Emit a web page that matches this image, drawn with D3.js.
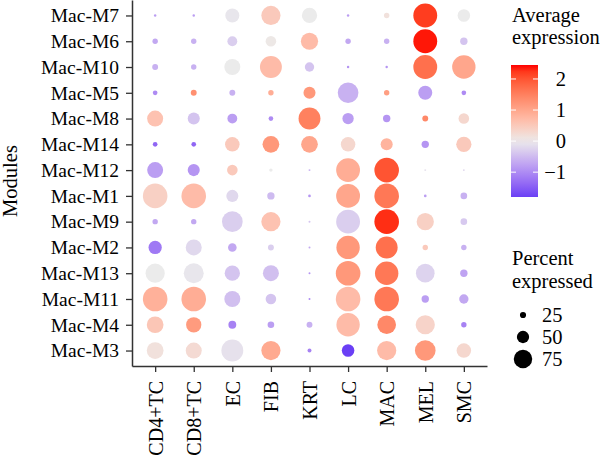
<!DOCTYPE html>
<html>
<head>
<meta charset="utf-8">
<script src="https://cdn.jsdelivr.net/npm/d3@7"></script>
<style>
  body { margin: 0; background: #fff; }
</style>
</head>
<body>
<svg id="chart" width="600" height="458"></svg>
<script>
const modules = ["Mac-M7", "Mac-M6", "Mac-M10", "Mac-M5", "Mac-M8", "Mac-M14", "Mac-M12",
                 "Mac-M1", "Mac-M9", "Mac-M2", "Mac-M13", "Mac-M11", "Mac-M4", "Mac-M3"];
const cellTypes = ["CD4+TC", "CD8+TC", "EC", "FIB", "KRT", "LC", "MAC", "MEL", "SMC"];

// percent expressed, one row per module (columns follow cellTypes)
const pctExpressed = [
  [10, 10, 57, 78, 62, 10, 22, 97, 51],
  [22, 22, 40, 43, 70, 22, 22, 97, 30],
  [24, 22, 65, 89, 38, 10, 10, 97, 95],
  [19, 24, 24, 22, 49, 84, 22, 57, 19],
  [65, 49, 40, 19, 89, 46, 30, 24, 43],
  [19, 19, 59, 68, 68, 59, 49, 30, 62],
  [65, 49, 43, 14, 8, 97, 100, 8, 8],
  [100, 100, 49, 30, 11, 97, 100, 11, 27],
  [22, 22, 84, 78, 8, 97, 100, 70, 27],
  [54, 65, 35, 24, 8, 95, 89, 22, 22],
  [78, 81, 62, 65, 8, 100, 95, 76, 30],
  [100, 100, 65, 43, 8, 100, 100, 30, 38],
  [68, 62, 32, 27, 24, 95, 76, 78, 22],
  [68, 65, 89, 78, 16, 51, 78, 84, 59]
];

// average expression, same layout
const avgExpression = [
  [-0.8, -0.8, -0.05, 0.5, 0.0, -0.8, 0.15, 2.2, 0.0],
  [-0.7, -0.6, -0.3, 0.05, 0.7, -0.7, -0.6, 2.4, -0.4],
  [-0.6, -0.6, 0.0, 0.7, -0.4, -0.9, -0.9, 1.7, 1.0],
  [-1.0, 1.3, -0.6, 0.9, 1.2, -0.6, 1.1, -0.8, -1.0],
  [0.6, -0.4, -0.8, -1.0, 1.5, -0.8, -0.9, 1.4, 0.3],
  [-1.4, -1.4, 0.5, 1.2, 1.0, 0.3, 0.8, -0.9, 0.5],
  [-0.8, -0.9, 0.5, 0.0, -0.6, 0.9, 2.0, -0.1, -0.2],
  [0.4, 0.7, -0.2, -0.5, -0.9, 1.0, 1.6, -0.8, -0.6],
  [-0.7, -0.7, -0.3, 0.6, -0.4, -0.3, 2.3, 0.4, -0.35],
  [-1.2, -0.2, -0.7, -0.3, -0.7, 1.2, 1.7, 0.5, -0.6],
  [0.0, -0.05, -0.4, -0.45, -0.9, 1.2, 1.6, -0.25, -0.75],
  [0.85, 0.9, -0.45, -0.4, -1.0, 0.7, 1.6, -0.8, -0.7],
  [0.55, 1.15, -1.1, -0.8, -0.6, 0.7, 1.4, 0.35, -1.1],
  [0.15, 0.25, -0.1, 0.95, -1.1, -1.8, 0.7, 1.2, 0.3]
];

const colorTicks = [2, 1, 0, -1];
const sizeTicks = [25, 50, 75];

const FONT = "'Liberation Serif', 'Times New Roman', serif";

const svg = d3.select("#chart")
    .attr("font-family", FONT);

const x = d3.scalePoint().domain(cellTypes).range([132, 487]).padding(0.6);
const y = d3.scalePoint().domain(modules).range([0, 366]).padding(0.6);
const r = d3.scaleLinear().domain([0, 100]).range([0, 12.3]);
const color = d3.scaleLinear()
    .domain([-1.8, 0, 2.45])
    .range(["#6a3ff5", "#ebebeb", "#ff0000"])
    .interpolate(d3.interpolateLab);

// flatten the grid
const cells = [];
modules.forEach((m, i) => {
  cellTypes.forEach((c, j) => {
    cells.push({ module: m, cell: c, pct: pctExpressed[i][j], avg: avgExpression[i][j] });
  });
});

svg.append("g").selectAll("circle")
  .data(cells)
  .join("circle")
    .attr("cx", d => x(d.cell))
    .attr("cy", d => y(d.module))
    .attr("r", d => r(d.pct))
    .attr("fill", d => color(d.avg));

// axes
const yAxis = svg.append("g")
    .attr("transform", "translate(132,0)")
    .call(d3.axisLeft(y).tickSize(6).tickSizeOuter(0).tickPadding(7));
const xAxis = svg.append("g")
    .attr("transform", "translate(0,366)")
    .call(d3.axisBottom(x).tickSize(6).tickSizeOuter(0));

[xAxis, yAxis].forEach(a => {
  a.attr("font-family", FONT);
  a.select(".domain").attr("stroke", "#333").attr("stroke-width", 1.5);
  a.selectAll(".tick line").attr("stroke", "#333").attr("stroke-width", 1.3);
  a.selectAll("text").attr("font-size", 19.5).attr("fill", "#000");
});

xAxis.selectAll("text")
    .attr("font-size", 20)
    .attr("transform", "rotate(-90)")
    .attr("text-anchor", "end")
    .attr("x", -15)
    .attr("y", 0)
    .attr("dy", "0.35em");

svg.append("text")
    .attr("transform", "translate(17,181) rotate(-90)")
    .attr("text-anchor", "middle")
    .attr("font-size", 20.5)
    .text("Modules");

// colour legend
const legendX = 512;
svg.append("text").attr("x", legendX).attr("y", 22).attr("font-size", 20.5).text("Average");
svg.append("text").attr("x", legendX).attr("y", 44).attr("font-size", 20.5).text("expression");

const barScale = d3.scaleLinear().domain([-1.8, 2.45]).range([197, 65]);
const defs = svg.append("defs");
const grad = defs.append("linearGradient")
    .attr("id", "avg-grad")
    .attr("x1", 0).attr("y1", 1).attr("x2", 0).attr("y2", 0);
d3.range(0, 1.0001, 0.05).forEach(t => {
  const v = barScale.domain()[0] + t * (barScale.domain()[1] - barScale.domain()[0]);
  grad.append("stop").attr("offset", t).attr("stop-color", color(v));
});
svg.append("rect")
    .attr("x", 511).attr("y", 65)
    .attr("width", 27).attr("height", 132)
    .attr("fill", "url(#avg-grad)");

const cTick = svg.append("g").selectAll("g").data(colorTicks).join("g");
cTick.append("line")
    .attr("x1", 511).attr("x2", 516)
    .attr("y1", d => barScale(d)).attr("y2", d => barScale(d))
    .attr("stroke", "#fff").attr("stroke-width", 1);
cTick.append("line")
    .attr("x1", 533).attr("x2", 538)
    .attr("y1", d => barScale(d)).attr("y2", d => barScale(d))
    .attr("stroke", "#fff").attr("stroke-width", 1);
cTick.append("text")
    .attr("x", 566)
    .attr("y", d => barScale(d))
    .attr("dy", "0.35em")
    .attr("text-anchor", "end")
    .attr("font-size", 20.5)
    .text(d => d < 0 ? "\u2212" + Math.abs(d) : d);

// size legend
svg.append("text").attr("x", legendX).attr("y", 265).attr("font-size", 20.5).text("Percent");
svg.append("text").attr("x", legendX).attr("y", 288).attr("font-size", 20.5).text("expressed");

const sizeY = d3.scalePoint().domain(sizeTicks).range([315, 359]);
const sTick = svg.append("g").selectAll("g").data(sizeTicks).join("g");
sTick.append("circle")
    .attr("cx", 523)
    .attr("cy", d => sizeY(d))
    .attr("r", d => r(d))
    .attr("fill", "#000");
sTick.append("text")
    .attr("x", 542)
    .attr("y", d => sizeY(d))
    .attr("dy", "0.35em")
    .attr("font-size", 20.5)
    .text(d => d);
</script>
</body>
</html>
